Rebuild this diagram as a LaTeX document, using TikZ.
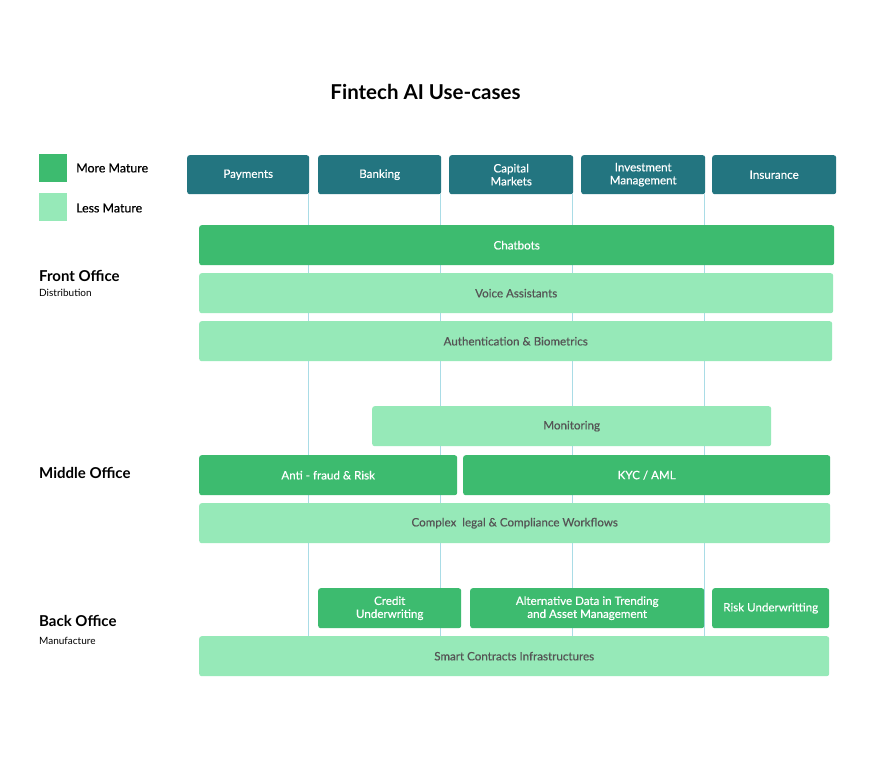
\documentclass[tikz,border=0pt]{standalone}
\usepackage{fontspec}
\setmainfont{Lato}
\newfontfamily\semifont{Lato}[FakeBold=0.45]
\usetikzlibrary{calc}
\definecolor{teal}{HTML}{237580}
\definecolor{moregreen}{HTML}{3DBB6F}
\definecolor{lessgreen}{HTML}{96E9B8}
\definecolor{barink}{HTML}{555555}
\definecolor{gridline}{HTML}{A9DCE6}
\tikzset{
  box/.style={anchor=north west, inner sep=0pt, rounded corners=2.5pt, align=center, font=\semifont\fontsize{11.6}{13}\selectfont},
  head/.style={box, fill=teal, text=white, minimum height=39pt},
  more/.style={box, fill=moregreen, text=white, minimum height=40pt},
  less/.style={box, fill=lessgreen, text=barink, minimum height=40pt},
  swatch/.style={anchor=north west, inner sep=0pt, minimum width=28pt, minimum height=28pt},
  legend/.style={anchor=west, inner sep=0pt, font=\semifont\fontsize{12.4}{14}\selectfont},
  section/.style={anchor=west, inner sep=0pt, font=\fontsize{15}{17}\selectfont\bfseries},
  subsection/.style={anchor=west, inner sep=0pt, font=\fontsize{10}{11}\selectfont},
  vline/.style={draw=gridline, line width=0.8pt},
}
\begin{document}
\begin{tikzpicture}[x=1pt, y=-1pt]
\useasboundingbox[fill=white] (0,0) rectangle (876,756);

\node[anchor=center, inner sep=0pt, font=\fontsize{20.5}{24}\selectfont\bfseries] (title) at (425.5,92) {Fintech AI Use-cases};

% legend
\node[swatch, fill=moregreen] (sqmore) at (39,154) {};
\node[swatch, fill=lessgreen] (sqless) at (39,193) {};
\node[legend] (lmore) at (76,168) {More Mature};
\node[legend] (lless) at (76,208) {Less Mature};

% column headers
\node[head, minimum width=122pt] (pay) at (187,155) {Payments};
\node[head, minimum width=123pt] (bank) at (318,155) {Banking};
\node[head, minimum width=124pt] (cap) at (449,155) {Capital\\Markets};
\node[head, minimum width=124pt] (inv) at (581,155) {Investment\\Management};
\node[head, minimum width=124pt] (ins) at (712,155) {Insurance};

% section labels
\node[section] (front) at (39,276) {Front Office};
\node[subsection] (frontsub) at (39,293) {Distribution};
\node[section] (middle) at (39,473) {Middle Office};
\node[section] (back) at (39,621) {Back Office};
\node[subsection] (backsub) at (39,641) {Manufacture};

% bottom bar first, so grid lines can end on it
\node[less, minimum width=630pt] (smart) at (199,636) {Smart Contracts Infrastructures};

% column grid lines behind the bars
\foreach \h in {pay,bank,cap,inv}{
  \draw[vline] ($(\h.south east)+(-1,0)$) -- ($(\h.south east |- smart.north)+(-1,0)$);
}

% front office
\node[more, minimum width=635pt] (chat) at (199,225) {Chatbots};
\node[less, minimum width=634pt] (voice) at (199,273) {Voice Assistants};
\node[less, minimum width=633pt] (auth) at (199,321) {Authentication \& Biometrics};

% middle office
\node[less, minimum width=399pt] (mon) at (372,406) {Monitoring};
\node[more, minimum width=258pt] (fraud) at (199,455) {Anti - fraud \& Risk};
\node[more, minimum width=367pt] (kyc) at (463,455) {KYC / AML};
\node[less, minimum width=631pt] (legal) at (199,503) {Complex\ \ legal \& Compliance Workflows};

% back office
\node[more, minimum width=143pt] (credit) at (318,588) {Credit\\Underwriting};
\node[more, minimum width=234pt] (alt) at (470,588) {Alternative Data in Trending\\and Asset Management};
\node[more, minimum width=117pt] (risk) at (712,588) {Risk Underwritting};
\end{tikzpicture}
\end{document}
